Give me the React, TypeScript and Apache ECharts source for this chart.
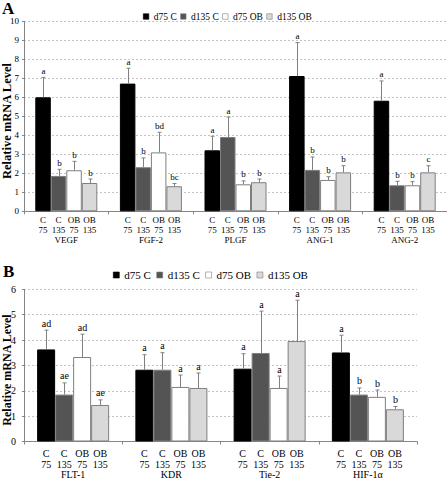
import React, { useEffect, useRef } from "react";
import * as echarts from "echarts";

const FONT = "'Liberation Serif', 'Times New Roman', serif";

const seriesNames = ["d75 C", "d135 C", "d75 OB", "d135 OB"];
const barColors = ["#000000", "#545454", "#ffffff", "#d9d9d9"];
const barTopLabels = ["C", "C", "OB", "OB"];
const barBottomLabels = ["75", "135", "75", "135"];

// Panel A
const genesA = ["VEGF", "FGF-2", "PLGF", "ANG-1", "ANG-2"];
const d75C_A = [6.0, 6.72, 3.21, 7.12, 5.82];
const d135C_A = [1.86, 2.32, 3.91, 2.18, 1.37];
const d75OB_A = [2.16, 3.1, 1.42, 1.65, 1.37];
const d135OB_A = [1.49, 1.32, 1.53, 2.05, 2.05];
const d75C_A_err = [1.05, 0.81, 0.74, 1.76, 1.04];
const d135C_A_err = [0.35, 0.49, 1.05, 0.68, 0.21];
const d75OB_A_err = [0.47, 1.06, 0.18, 0.17, 0.19];
const d135OB_A_err = [0.21, 0.14, 0.17, 0.35, 0.35];
const d75C_A_sig = ["a", "a", "a", "a", "a"];
const d135C_A_sig = ["b", "b", "a", "b", "b"];
const d75OB_A_sig = ["b", "bd", "b", "b", "b"];
const d135OB_A_sig = ["b", "bc", "b", "b", "c"];
const yTicksA = { min: 0, max: 10, interval: 1 };

// Panel B
const genesB = ["FLT-1", "KDR", "Tie-2", "HIF-1α"];
const d75C_B = [3.63, 2.83, 2.87, 3.51];
const d135C_B = [1.85, 2.83, 3.49, 1.85];
const d75OB_B = [3.33, 2.15, 2.11, 1.76];
const d135OB_B = [1.44, 2.11, 3.96, 1.27];
const d75C_B_err = [0.76, 0.59, 0.59, 0.68];
const d135C_B_err = [0.46, 0.67, 1.65, 0.26];
const d75OB_B_err = [0.9, 0.47, 0.47, 0.27];
const d135OB_B_err = [0.2, 0.59, 1.61, 0.11];
const d75C_B_sig = ["ad", "a", "a", "a"];
const d135C_B_sig = ["ae", "a", "a", "b"];
const d75OB_B_sig = ["ad", "a", "a", "b"];
const d135OB_B_sig = ["ae", "a", "a", "b"];
const yTicksB = { min: 0, max: 6, interval: 1 };

const BAR_W_A = 15.5;
const BAR_W_B = 18;

function buildPanel(
  idx: number,
  genes: string[],
  means: number[][],
  errs: number[][],
  sigs: string[][],
  barW: number,
  fontSize: number
) {
  const bars = means.map((vals, s) => ({
    type: "bar",
    name: seriesNames[s],
    xAxisIndex: idx,
    yAxisIndex: idx,
    data: vals,
    barWidth: barW,
    barGap: "0%",
    itemStyle: {
      color: barColors[s],
      borderColor: s === 0 ? "#000000" : "#7f7f7f",
      borderWidth: 1,
    },
    z: 2,
  }));
  const errData: number[][] = [];
  const errLabels: string[] = [];
  genes.forEach((_, i) => {
    means.forEach((vals, s) => {
      errData.push([i, s, vals[i], vals[i] + errs[s][i]]);
      errLabels.push(sigs[s][i]);
    });
  });
  const errSeries = {
    type: "custom",
    name: "err" + idx,
    xAxisIndex: idx,
    yAxisIndex: idx,
    data: errData,
    encode: { x: 0, y: 3 },
    z: 5,
    renderItem: (params: any, api: any) => {
      const cat = api.value(0);
      const s = api.value(1);
      const base = api.coord([cat, api.value(2)]);
      const top = api.coord([cat, api.value(3)]);
      const x = Math.round(base[0] + (s - 1.5) * barW) + 0.5;
      return {
        type: "group",
        children: [
          {
            type: "line",
            shape: { x1: x, y1: base[1], x2: x, y2: top[1] },
            style: { stroke: "#808080", lineWidth: 1 },
          },
          {
            type: "line",
            shape: { x1: x - 2, y1: top[1], x2: x + 2, y2: top[1] },
            style: { stroke: "#808080", lineWidth: 1 },
          },
          {
            type: "text",
            x: x,
            y: top[1] - 2,
            style: {
              text: errLabels[params.dataIndex],
              fill: "#000",
              fontSize: fontSize,
              fontFamily: FONT,
              align: "center",
              verticalAlign: "bottom",
            },
          },
        ],
      };
    },
  };
  return [...bars, errSeries];
}

function xAxisFor(idx: number, genes: string[], barW: number, fontSize: number, lineH: number, margin: number) {
  return {
    type: "category",
    gridIndex: idx,
    data: genes,
    axisLine: { show: true, lineStyle: { color: "#868686", width: 1 } },
    axisTick: { show: true, length: 3, lineStyle: { color: "#868686" } },
    axisLabel: {
      interval: 0,
      margin: margin,
      color: "#000",
      fontFamily: FONT,
      fontSize: fontSize,
      lineHeight: lineH,
      verticalAlign: "top",
      formatter: (v: string) =>
        barTopLabels.map((t) => `{c|${t}}`).join("") +
        "\n" +
        barBottomLabels.map((t) => `{c|${t}}`).join("") +
        `\n{g|${v}}`,
      rich: {
        c: {
          width: barW,
          align: "center",
          fontSize: fontSize,
          fontFamily: FONT,
          lineHeight: lineH,
          color: "#000",
        },
        g: {
          align: "center",
          fontSize: fontSize,
          fontFamily: FONT,
          lineHeight: lineH,
          color: "#000",
        },
      },
    },
  };
}

function yAxisFor(idx: number, ticks: { min: number; max: number; interval: number }, fontSize: number, margin: number) {
  return {
    type: "value",
    gridIndex: idx,
    min: ticks.min,
    max: ticks.max,
    interval: ticks.interval,
    axisLine: { show: true, lineStyle: { color: "#868686", width: 1 } },
    axisTick: { show: true, length: 2, lineStyle: { color: "#868686" } },
    axisLabel: { color: "#000", fontFamily: FONT, fontSize: fontSize, margin: margin },
    splitLine: { show: true, lineStyle: { color: "#c4c4c4", type: [2, 2], width: 1 } },
  };
}

export default function App() {
  const ref = useRef<HTMLDivElement>(null);
  useEffect(() => {
    if (!ref.current) return;
    const chart = echarts.init(ref.current, undefined, { renderer: "svg" });
    const option = {
      animation: false,
      backgroundColor: "#ffffff",
      textStyle: { fontFamily: FONT },
      grid: [
        { left: 24, right: 0, top: 21.3, height: 190, containLabel: false },
        { left: 24, right: 30, top: 289.3, height: 152.7, containLabel: false },
      ],
      legend: [
        {
          data: seriesNames,
          left: 143,
          top: 11.5,
          padding: 0,
          itemWidth: 5.5,
          itemHeight: 5.5,
          itemGap: 3.5,
          icon: "rect",
          itemStyle: { borderWidth: 0.6 },
          textStyle: { fontFamily: FONT, fontSize: 9.5, color: "#000" },
        },
        {
          data: seriesNames,
          left: 113,
          top: 269.5,
          padding: 0,
          itemWidth: 6,
          itemHeight: 6,
          itemGap: 5.5,
          icon: "rect",
          itemStyle: { borderWidth: 0.6 },
          textStyle: { fontFamily: FONT, fontSize: 11, color: "#000" },
        },
      ],
      xAxis: [
        xAxisFor(0, genesA, BAR_W_A, 9, 10, 4),
        xAxisFor(1, genesB, BAR_W_B, 10, 10.5, 7),
      ],
      yAxis: [yAxisFor(0, yTicksA, 9, 5), yAxisFor(1, yTicksB, 10, 8)],
      graphic: [
        {
          type: "text",
          left: 2,
          top: 0,
          style: { text: "A", fontFamily: FONT, fontSize: 17, fontWeight: "bold", fill: "#000" },
        },
        {
          type: "text",
          left: 3,
          top: 263,
          style: { text: "B", fontFamily: FONT, fontSize: 17, fontWeight: "bold", fill: "#000" },
        },
        {
          type: "text",
          x: 7,
          y: 121,
          rotation: Math.PI / 2,
          style: {
            text: "Relative mRNA Level",
            fontFamily: FONT,
            fontSize: 12.5,
            fontWeight: "bold",
            fill: "#000",
            align: "center",
            verticalAlign: "middle",
          },
        },
        {
          type: "text",
          x: 7,
          y: 370,
          rotation: Math.PI / 2,
          style: {
            text: "Relative mRNA Level",
            fontFamily: FONT,
            fontSize: 12,
            fontWeight: "bold",
            fill: "#000",
            align: "center",
            verticalAlign: "middle",
          },
        },
      ],
      series: [
        ...buildPanel(
          0,
          genesA,
          [d75C_A, d135C_A, d75OB_A, d135OB_A],
          [d75C_A_err, d135C_A_err, d75OB_A_err, d135OB_A_err],
          [d75C_A_sig, d135C_A_sig, d75OB_A_sig, d135OB_A_sig],
          BAR_W_A,
          9
        ),
        ...buildPanel(
          1,
          genesB,
          [d75C_B, d135C_B, d75OB_B, d135OB_B],
          [d75C_B_err, d135C_B_err, d75OB_B_err, d135OB_B_err],
          [d75C_B_sig, d135C_B_sig, d75OB_B_sig, d135OB_B_sig],
          BAR_W_B,
          10
        ),
      ],
    };
    chart.setOption(option as any);
    return () => chart.dispose();
  }, []);
  return (
    <div
      ref={ref}
      style={{ position: "absolute", left: 0, top: 0, width: 447, height: 480, background: "#fff" }}
    />
  );
}
